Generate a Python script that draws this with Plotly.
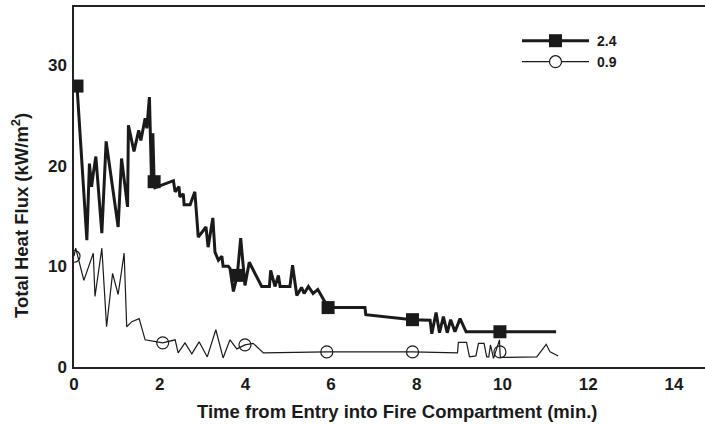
import plotly.graph_objects as go

# Time (min) and total heat flux (kW/m²) for the 2.4 series
t_24 = [0.07, 0.30, 0.36, 0.41, 0.45, 0.51, 0.65, 0.75, 1.03, 1.11, 1.25, 1.27,
        1.40, 1.51, 1.56, 1.66, 1.70, 1.76, 1.81, 1.84, 1.87, 1.89, 2.32, 2.36,
        2.45, 2.47, 2.55, 2.57, 2.71, 2.82, 2.90, 3.08, 3.13, 3.24, 3.29, 3.37,
        3.45, 3.48, 3.60, 3.64, 3.72, 3.81, 3.89, 3.99, 4.09, 4.38, 4.56, 4.59,
        4.69, 4.77, 4.81, 5.04, 5.10, 5.20, 5.31, 5.37, 5.47, 5.58, 5.69, 5.82,
        5.93, 6.79, 6.81, 7.90, 8.31, 8.35, 8.45, 8.53, 8.62, 8.71, 8.79, 8.89,
        9.01, 9.15, 9.94, 11.25]
v_24 = [27.9, 12.6, 20.2, 17.9, 19.2, 20.9, 13.3, 22.4, 13.9, 20.7, 15.9, 24.0,
        21.4, 23.5, 22.5, 24.7, 23.7, 26.8, 18.4, 23.2, 18.4, 17.8, 18.5, 17.4,
        17.9, 16.9, 17.2, 16.1, 16.1, 17.4, 12.9, 13.9, 11.9, 14.8, 11.4, 10.6,
        11.0, 10.0, 10.0, 9.8, 7.5, 9.1, 12.8, 8.1, 10.4, 8.0, 8.0, 9.6,
        8.0, 9.1, 8.0, 8.0, 10.1, 7.1, 7.9, 7.3, 8.0, 7.3, 7.7, 6.7,
        5.9, 5.9, 5.2, 4.7, 4.65, 3.3, 5.4, 3.4, 5.0, 3.4, 4.7, 3.5,
        4.8, 3.5, 3.5, 3.5]
marks_24 = [0, 20, 41, 60, 63, 74]

# Time (min) and total heat flux (kW/m²) for the 0.9 series
t_09 = [0.0, 0.04, 0.23, 0.45, 0.49, 0.65, 0.76, 0.90, 1.03, 1.17, 1.23, 1.35,
        1.52, 1.66, 2.07, 2.36, 2.43, 2.59, 2.75, 2.92, 3.11, 3.31, 3.48, 3.64,
        3.80, 3.99, 4.18, 4.42, 5.90, 7.90, 8.95, 8.97, 9.16, 9.23, 9.38, 9.44,
        9.57, 9.63, 9.68, 9.72, 9.79, 9.93, 9.94, 9.95, 10.80, 11.02, 11.11, 11.30]
v_09 = [11.0, 11.8, 8.6, 11.3, 7.0, 11.8, 4.0, 9.3, 7.2, 11.3, 4.0, 4.5,
        4.8, 2.7, 2.4, 2.7, 1.4, 2.4, 1.3, 2.5, 1.0, 3.7, 0.9, 2.7,
        1.8, 2.2, 2.35, 1.4, 1.5, 1.5, 1.4, 2.45, 2.45, 1.0, 1.1, 2.35,
        2.35, 1.0, 1.0, 2.2, 0.86, 2.7, 1.5, 0.95, 1.0, 2.25, 1.5, 1.1]
marks_09 = [0, 14, 25, 28, 29, 42]

series_names = ["2.4", "0.9"]
x_ticks = [0, 2, 4, 6, 8, 10, 12, 14]
y_ticks = [0, 10, 20, 30]

INK = "#1a1a1a"
FONT = "Liberation Sans, Arial, Helvetica, sans-serif"


def pick(values, idx):
    return [values[i] for i in idx]


fig = go.Figure()
# Thick 2.4 curve and its square markers
fig.add_trace(go.Scatter(
    x=t_24, y=v_24, mode="lines", name=series_names[0],
    line=dict(color=INK, width=3), showlegend=False,
))
fig.add_trace(go.Scatter(
    x=pick(t_24, marks_24), y=pick(v_24, marks_24), mode="markers",
    marker=dict(symbol="square", color=INK, size=13, opacity=1, line=dict(width=0)),
    showlegend=False,
))
# Thin 0.9 curve and its open circle markers
fig.add_trace(go.Scatter(
    x=t_09, y=v_09, mode="lines", name=series_names[1],
    line=dict(color=INK, width=1.2), showlegend=False,
))
fig.add_trace(go.Scatter(
    x=pick(t_09, marks_09), y=pick(v_09, marks_09), mode="markers",
    marker=dict(symbol="circle-open", color=INK, size=12, opacity=1, line=dict(width=1.2)),
    showlegend=False,
))

W, H = 705, 424
L, R, T, B = 74, 0, 7, 57
pw, ph = W - L - R, H - T - B


def px_x(p):
    return (p - L) / pw


def px_y(p):
    return (H - B - p) / ph


# Legend key: long line sample with its marker, label to the right
shapes = []
annotations = []
key_rows = [(40.7, "square", 3, series_names[0]), (61.7, "circle", 1.2, series_names[1])]
for yy, sym, lw, label in key_rows:
    shapes.append(dict(type="line", xref="paper", yref="paper",
                       x0=px_x(522), x1=px_x(589), y0=px_y(yy), y1=px_y(yy),
                       line=dict(color=INK, width=lw)))
    if sym == "square":
        shapes.append(dict(type="rect", xref="paper", yref="paper",
                           xsizemode="pixel", ysizemode="pixel",
                           xanchor=px_x(555.5), yanchor=px_y(yy),
                           x0=-6.5, x1=6.5, y0=-6.5, y1=6.5,
                           fillcolor=INK, line=dict(width=0)))
    else:
        shapes.append(dict(type="circle", xref="paper", yref="paper",
                           xsizemode="pixel", ysizemode="pixel",
                           xanchor=px_x(555.5), yanchor=px_y(yy),
                           x0=-6, x1=6, y0=-6, y1=6,
                           fillcolor="white", line=dict(color=INK, width=1.2)))
    annotations.append(dict(xref="paper", yref="paper", x=px_x(595), y=px_y(yy),
                            xanchor="left", yanchor="middle", showarrow=False,
                            text=label, font=dict(family=FONT, size=14, color=INK, weight="bold")))

# Axis titles
annotations.append(dict(xref="paper", yref="paper", x=px_x(397), y=0,
                        xanchor="center", yanchor="middle", yshift=-44, showarrow=False,
                        text="Time from Entry into Fire Compartment (min.)",
                        font=dict(family=FONT, size=18.5, color=INK, weight="bold")))
annotations.append(dict(xref="paper", yref="paper", x=0, y=px_y(216),
                        xanchor="center", yanchor="middle", xshift=-(L - 20), textangle=-90,
                        showarrow=False, text="Total Heat Flux (kW/m<sup>2</sup>)",
                        font=dict(family=FONT, size=18.5, color=INK, weight="bold")))

fig.update_layout(
    width=W, height=H,
    margin=dict(l=L, r=R, t=T, b=B),
    paper_bgcolor="white", plot_bgcolor="white",
    font=dict(family=FONT, color=INK, weight="bold"),
    shapes=shapes, annotations=annotations,
)
fig.update_xaxes(
    range=[0, pw / 42.85], tickvals=x_ticks, ticktext=[str(v) for v in x_ticks],
    showgrid=False, zeroline=False, showline=True, linecolor="#222", linewidth=1.5,
    mirror=True, ticks="", tickfont=dict(family=FONT, size=17, color=INK, weight="bold"),
    ticklabelstandoff=1,
)
fig.update_yaxes(
    range=[0, ph / 10.07], tickvals=y_ticks, ticktext=[str(v) for v in y_ticks],
    showgrid=False, zeroline=False, showline=True, linecolor="#222", linewidth=1.5,
    mirror=False, ticks="", tickfont=dict(family=FONT, size=17, color=INK, weight="bold"),
    ticklabelstandoff=2,
)

fig.write_html("out.html")
